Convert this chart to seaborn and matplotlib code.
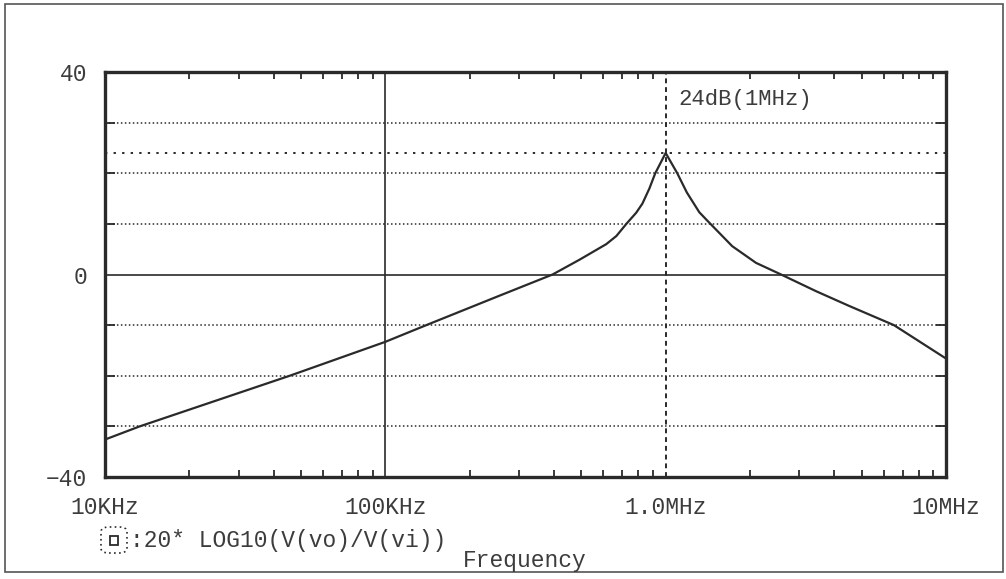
import matplotlib
matplotlib.use('Agg')
from matplotlib import pyplot as plt
from matplotlib.patches import FancyBboxPatch, Rectangle
from matplotlib.ticker import FixedLocator, LogLocator, MultipleLocator, NullFormatter
import numpy as np
import pandas as pd
import seaborn as sns

sns.set_theme(style='white')
plt.rcParams['font.family'] = ['Liberation Mono', 'DejaVu Sans Mono']

#################################################################################
# data (frequency in Hz, gain in dB)

freq = [10e3, 13.3e3, 45.6e3, 100e3, 140e3, 255e3, 395e3, 492e3, 614e3, 667e3,
        724e3, 785e3, 826e3, 875e3, 918e3, 1.0e6, 1.10e6, 1.19e6, 1.318e6,
        1.41e6, 1.727e6, 2.10e6, 2.58e6, 3.44e6, 4.51e6, 6.52e6, 10e6]
gain = [-32.6, -30.0, -20.0, -13.3, -10.0, -4.2, 0.0, 2.9, 6.0, 7.6,
        10.0, 12.2, 14.0, 17.0, 20.0, 24.0, 20.0, 16.2, 12.3,
        10.6, 5.6, 2.3, 0.0, -3.3, -6.2, -10.0, -16.6]

xticks = [1e4, 1e5, 1e6, 1e7]
xticklabels = ['10KHz', '100KHz', '1.0MHz', '10MHz']
yticks = [-40, 0, 40]
ygrid = [-30, -20, -10, 10, 20, 30]
marker_db = 24
marker_f = 1e6

df = pd.DataFrame({'freq': freq, 'gain': gain})

ink = '#2a2a2a'
txt = '#3c3c3c'

#################################################################################
# plot

fig = plt.figure(figsize=(10.06, 5.79), dpi=100)
ax = fig.add_axes([105/1006, 1-477/579, (946-105)/1006, (477-72)/579])

# grid
for g in ygrid:
    ax.axhline(g, color=ink, lw=1.1, ls=(0, (1, 1.6)), zorder=1)
ax.axhline(0, color=ink, lw=1.2, zorder=1)
ax.axvline(1e5, color=ink, lw=1.2, zorder=1)

# marker lines
ax.axhline(marker_db, color=ink, lw=1.4, ls=(0, (1.2, 3.2)), zorder=1)
ax.axvline(marker_f, color=ink, lw=1.4, ls=(0, (2.5, 2)), zorder=1)

sns.lineplot(data=df, x='freq', y='gain', ax=ax, color=ink, lw=1.6, zorder=3)

ax.set_xscale('log')
ax.set_xlim(1e4, 1e7)
ax.set_ylim(-40, 40)

ax.xaxis.set_major_locator(FixedLocator(xticks))
ax.set_xticklabels(xticklabels)
ax.xaxis.set_minor_locator(LogLocator(base=10, subs=np.arange(2, 10)))
ax.xaxis.set_minor_formatter(NullFormatter())
ax.yaxis.set_major_locator(FixedLocator(yticks))
ax.yaxis.set_minor_locator(MultipleLocator(10))

ax.tick_params(which='major', direction='out', length=7, width=1.6,
               colors=ink, labelcolor=txt, labelsize=16.5, pad=6)
ax.tick_params(axis='x', which='major', pad=7)
ax.tick_params(which='minor', direction='in', length=5, width=1.3,
               colors=ink, top=True, right=True, bottom=True, left=True)
ax.tick_params(axis='y', which='minor', length=7)
ax.set_xlabel('')
ax.set_ylabel('')

for s in ax.spines.values():
    s.set_color(ink)
    s.set_linewidth(2.4)
    s.set_visible(True)

ax.text(1.11e6, 34.5, '24dB(1MHz)', fontsize=16, color=txt, va='center', ha='left')

# trace legend
fig.patches.append(FancyBboxPatch((101/1006, 1-553/579), 26/1006, 26/579,
                                  boxstyle='round,pad=0,rounding_size=0.008',
                                  transform=fig.transFigure, fill=False,
                                  edgecolor=ink, lw=1.2, ls=(0, (1, 2))))
fig.patches.append(Rectangle((110/1006, 1-545/579), 8/1006, 9/579,
                             transform=fig.transFigure, fill=False,
                             edgecolor=ink, lw=1.3))
fig.text(130/1006, 1-540/579, ':20* LOG10(V(vo)/V(vi))', fontsize=16.5,
         color=txt, va='center', ha='left')
fig.text(525/1006, 1-561/579, 'Frequency', fontsize=16.5, color=txt,
         va='center', ha='center')

# outer frame
fig.patches.append(Rectangle((5/1006, 1-572/579), 998/1006, 568/579,
                             transform=fig.transFigure, fill=False,
                             edgecolor='#555555', lw=1.2))

plt.savefig('out.png', dpi=100)
